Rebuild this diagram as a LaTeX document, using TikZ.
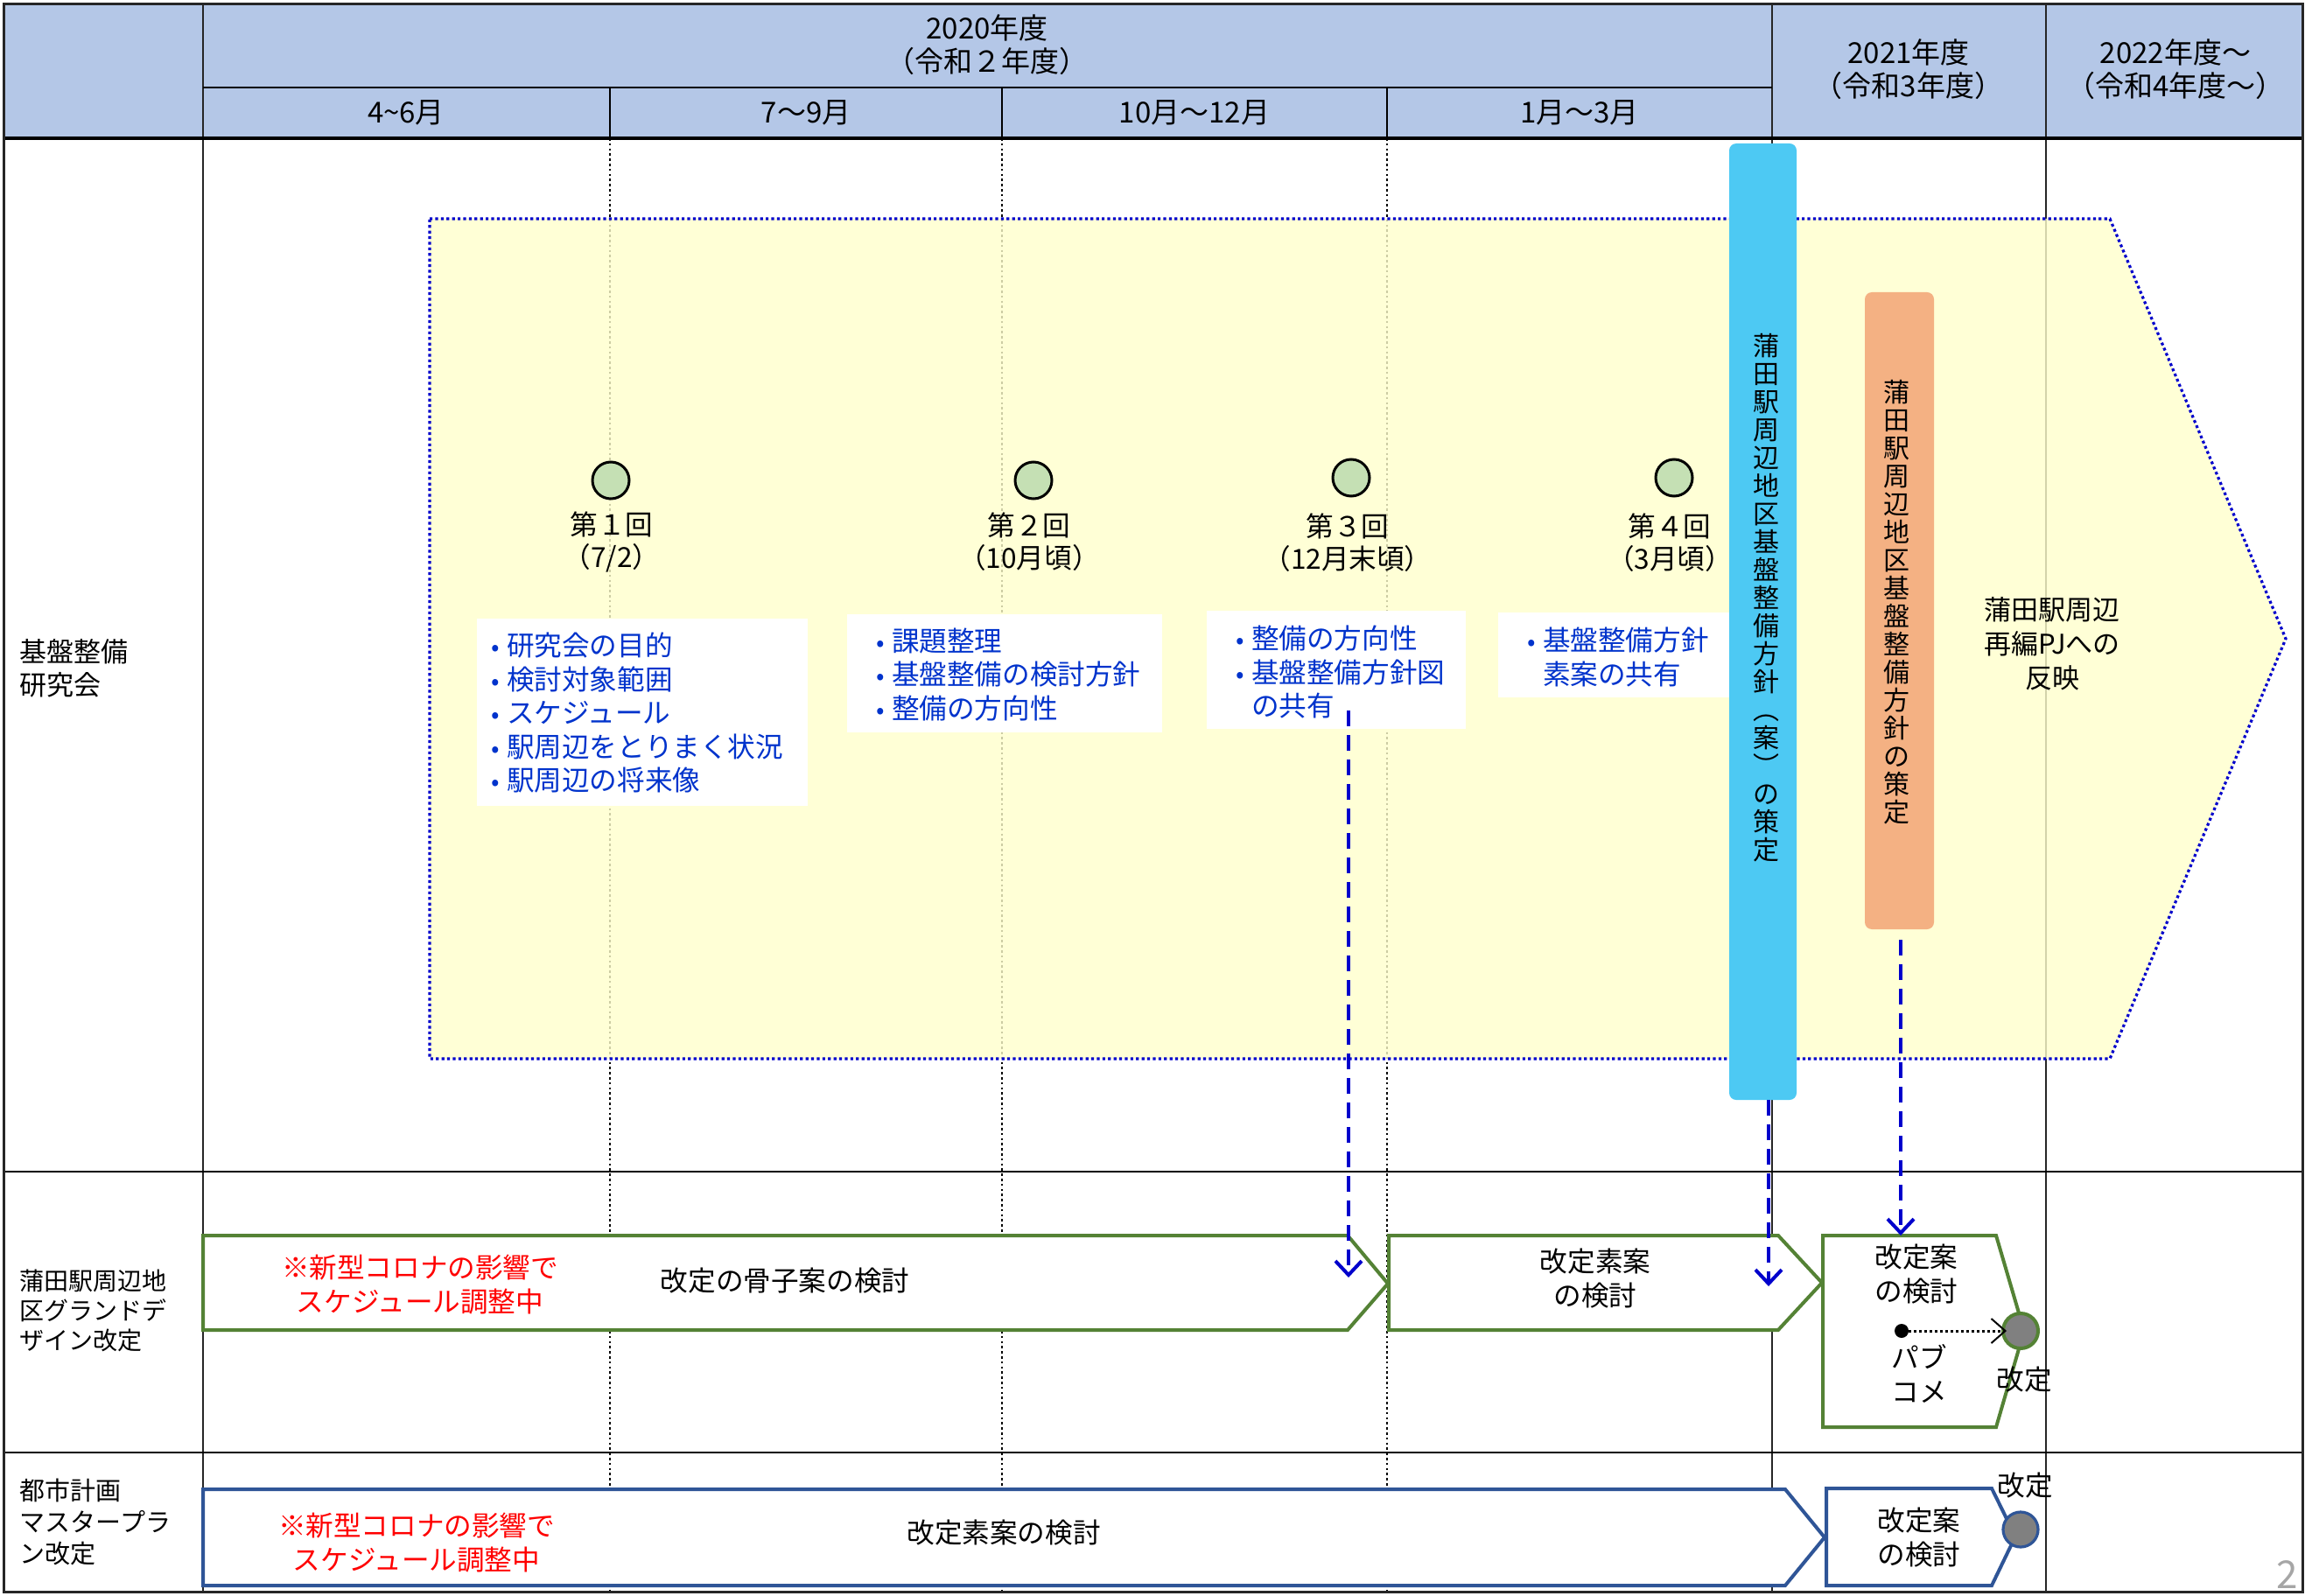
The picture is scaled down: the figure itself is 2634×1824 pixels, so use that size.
\documentclass[tikz,border=0pt]{standalone}
\usepackage{fontspec}
\setmainfont{Noto Sans CJK JP}
\usetikzlibrary{arrows.meta,calc}
\definecolor{hdrblue}{HTML}{B4C7E7}
\definecolor{ylw}{HTML}{FFFFCC}
\definecolor{dotblue}{HTML}{0000CC}
\definecolor{msgreen}{HTML}{C5E0B4}
\definecolor{noteblue}{HTML}{0033CC}
\definecolor{barblue}{HTML}{4DC9F3}
\definecolor{barorange}{HTML}{F4B183}
\definecolor{gdgreen}{HTML}{548235}
\definecolor{mpblue}{HTML}{2F5597}
\definecolor{arrblue}{HTML}{0000CC}
\definecolor{pgray}{HTML}{A6A6A6}
\definecolor{kgray}{HTML}{808080}
\newcommand\fsHdr{\fontsize{16.5}{19}\selectfont}
\newcommand\fsNote{\fontsize{15.8}{19.25}\selectfont}
\newcommand\fsRow{\fontsize{14}{17}\selectfont}
\newcommand\fsRowB{\fontsize{14.5}{18}\selectfont}
\newcommand\fsVert{\fontsize{15}{16}\selectfont}
\newcommand\blt{\makebox[9pt][l]{\fontsize{14}{14}\selectfont •}}
\begin{document}
\begin{tikzpicture}[x=0.5pt,y=-0.5pt,
  every node/.style={inner sep=0pt, outer sep=0pt},
  gridsolid/.style={line width=1pt, draw=black!85},
  griddot/.style={line width=1.3pt, dash pattern=on 1.3pt off 1.6pt, draw=black},
  hdrtext/.style={font=\fsHdr, align=center},
  rowtext/.style={font=\fsRow, align=left, anchor=west},
  notetext/.style={font=\fsNote, text=noteblue, align=left, anchor=west},
  notebox/.style={fill=white},
  milestone/.style={circle, draw=black, line width=1.5pt, fill=msgreen, minimum size=21pt},
  mslabel/.style={font=\fontsize{15.8}{18.5}\selectfont, align=center},
  bodytext/.style={font=\fsNote, align=center},
  redtext/.style={font=\fsNote, align=center, text=red},
  vbar/.style={rounded corners=4pt, minimum width=38.5pt},
  vtext/.style={font=\fsVert, align=center},
  arr/.style={draw=arrblue, line width=2pt, dash pattern=on 9pt off 5pt,
    -{Straight Barb[length=8pt,width=15pt]}},
  gdshape/.style={draw=gdgreen, line width=2pt, fill=white, line join=miter},
  mpshape/.style={draw=mpblue, line width=2pt, fill=white, line join=miter},
  kaitei/.style={circle, fill=kgray, line width=2pt, minimum size=20pt},
]
\useasboundingbox (0,0) rectangle (2634,1824);
\fill[white] (0,0) rectangle (2634,1824);
% header
\fill[hdrblue] (4,5) rectangle (2631,158);
% grid
\draw[griddot] (697,158) -- (697,1819);
\draw[griddot] (1145,158) -- (1145,1819);
\draw[griddot] (1585,158) -- (1585,1819);
\draw[gridsolid] (232,5) -- (232,1819);
\draw[gridsolid] (2025,5) -- (2025,1819);
\draw[gridsolid] (2338,5) -- (2338,1819);
\draw[line width=0.8pt] (697,100) -- (697,158);
\draw[line width=0.8pt] (1145,100) -- (1145,158);
\draw[line width=0.8pt] (1585,100) -- (1585,158);
\draw[line width=1pt] (232,100) -- (2025,100);
\draw[line width=1.2pt] (4,1339) -- (2631,1339);
\draw[line width=1.2pt] (4,1660) -- (2631,1660);
\draw[line width=2pt] (4,158) -- (2631,158);
\draw[line width=1.5pt, draw=black!85] (4,5) rectangle (2631,1819);
% header texts
\node[hdrtext] (h2020) at (1128,51) {2020年度\\（令和２年度）};
\node[hdrtext] (q1) at (464,129) {4\textasciitilde 6月};
\node[hdrtext] (q2) at (921,129) {7～9月};
\node[hdrtext] (q3) at (1365,129) {10月～12月};
\node[hdrtext] (q4) at (1805,129) {1月～3月};
\node[hdrtext] (h2021) at (2181,79) {2021年度\\（令和3年度）};
\node[hdrtext] (h2022) at (2486,79) {2022年度～\\（令和4年度～）};
% row labels
\node[rowtext, font=\fontsize{15.5}{19}\selectfont] (r1) at (23,764) {基盤整備\\研究会};
\node[rowtext] (r2) at (23,1498) {蒲田駅周辺地\\区グランドデ\\ザイン改定};
\node[rowtext, font=\fsRowB] (r3) at (23,1739) {都市計画\\マスタープラ\\ン改定};
% yellow pentagon
\path[fill=ylw, fill opacity=0.8, draw=dotblue, line width=1.6pt,
  dash pattern=on 1.6pt off 1.6pt]
  (491,250) -- (2411,250) -- (2612,730) -- (2411,1210) -- (491,1210) -- cycle;
% milestones
\node[milestone] (m1) at (698,549) {};
\node[milestone] (m2) at (1181,549) {};
\node[milestone] (m3) at (1544,546) {};
\node[milestone] (m4) at (1913,546) {};
\node[mslabel] (l1) at (699,619) {第１回\\（7/2）};
\node[mslabel] (l2) at (1176,619) {第２回\\（10月頃）};
\node[mslabel] (l3) at (1540,620) {第３回\\（12月末頃）};
\node[mslabel] (l4) at (1908,620) {第４回\\（3月頃）};
% notes
\fill[notebox] (545,707) rectangle (923,921);
\node[notetext] (n1) at (561,815) {\blt 研究会の目的\\\blt 検討対象範囲\\\blt スケジュール\\\blt 駅周辺をとりまく状況\\\blt 駅周辺の将来像};
\fill[notebox] (968,702) rectangle (1328,837);
\node[notetext] (n2) at (1001,771) {\blt 課題整理\\\blt 基盤整備の検討方針\\\blt 整備の方向性};
\fill[notebox] (1379,698) rectangle (1675,833);
\node[notetext] (n3) at (1412,768) {\blt 整備の方向性\\\blt 基盤整備方針図\\\hspace*{9pt}の共有};
\fill[notebox] (1712,700) rectangle (1990,797);
\node[notetext] (n4) at (1745,751) {\blt 基盤整備方針\\\hspace*{9pt}素案の共有};
% vertical bars
\node[vbar, fill=barblue, minimum height=546.5pt] (bluebar) at (2014.5,710.5) {};
\node[vtext] (bluetext) at (2018,683) {蒲\\田\\駅\\周\\辺\\地\\区\\基\\盤\\整\\備\\方\\針\\︵\\案\\︶\\の\\策\\定};
\node[vbar, fill=barorange, minimum width=39.5pt, minimum height=364pt] (orangebar) at (2170.5,698) {};
\node[vtext] (orangetext) at (2167,688) {蒲\\田\\駅\\周\\辺\\地\\区\\基\\盤\\整\\備\\方\\針\\の\\策\\定};
\node[bodytext, font=\fontsize{15.5}{19.5}\selectfont] (pj) at (2345,736) {蒲田駅周辺\\再編PJへの\\反映};
% row 2 shapes
\draw[gdshape] (232,1412) -- (1540,1412) -- (1586,1467) -- (1540,1520) -- (232,1520) -- cycle;
\draw[gdshape] (1587,1412) -- (2032,1412) -- (2082,1466) -- (2032,1520) -- (1587,1520) -- cycle;
\draw[gdshape] (2083,1412) -- (2281,1412) -- (2313,1521) -- (2281,1631) -- (2083,1631) -- cycle;
\node[redtext] (c1) at (480,1468) {※新型コロナの影響で\\スケジュール調整中};
\node[bodytext] (g1) at (897,1464) {改定の骨子案の検討};
\node[bodytext] (g2) at (1823,1461) {改定素案\\の検討};
\node[bodytext] (g3) at (2190,1456) {改定案\\の検討};
\node[bodytext] (pb) at (2193,1570) {パブ\\コメ};
\node[kaitei, draw=gdgreen] (k1) at (2309,1521) {};
\node[circle, fill=black, minimum size=8pt] (pc) at (2173,1521) {};
\draw[line width=1.5pt, dash pattern=on 1.5pt off 1.5pt,
  -{Straight Barb[length=8pt,width=14pt,line width=1pt]}] (pc) -- ([xshift=-8pt]k1.center);
\node[bodytext] (kl1) at (2313,1577) {改定};
% row 3 shapes
\draw[mpshape] (232,1702) -- (2040,1702) -- (2085,1757) -- (2040,1812) -- (232,1812) -- cycle;
\draw[mpshape] (2087,1701) -- (2276,1701) -- (2303,1756) -- (2276,1812) -- (2087,1812) -- cycle;
\node[redtext] (c2) at (476,1763) {※新型コロナの影響で\\スケジュール調整中};
\node[bodytext] (b1) at (1147,1752) {改定素案の検討};
\node[bodytext] (b2) at (2193,1757) {改定案\\の検討};
\node[kaitei, draw=mpblue, line width=1.6pt] (k2) at (2309,1748) {};
\node[bodytext] (kl2) at (2314,1698) {改定};
% dashed arrows
\coordinate (a1s) at (1541,812);
\coordinate (a1e) at (1541,1460);
\coordinate (a2e) at (2021,1470);
\coordinate (a3e) at (2172,1412);
\draw[arr] (a1s) -- (a1e);
\draw[arr] (bluebar.south -| a2e) -- (a2e);
\draw[arr] ($(orangebar.south -| a3e)+(0,12)$) -- (a3e);
% page number
\node[font=\fontsize{22}{22}\selectfont, text=pgray] (pg) at (2614,1800) {2};
\end{tikzpicture}
\end{document}
